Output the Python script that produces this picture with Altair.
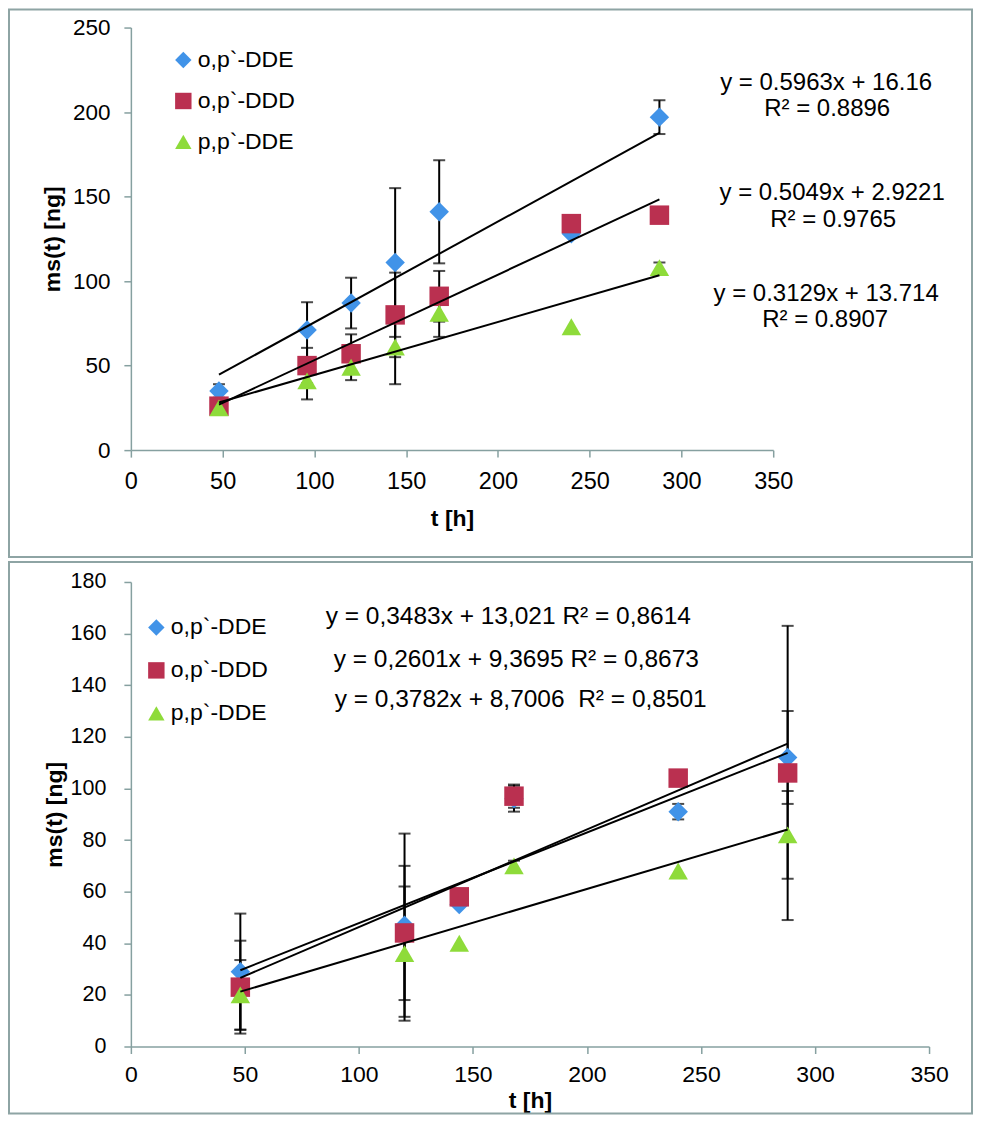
import altair as alt
import pandas as pd

SERIES = ["o,p`-DDE", "o,p`-DDD", "p,p`-DDE"]
COLORS = ["#4193E8", "#BA3050", "#8EDB3A"]
SHAPES = ["diamond", "square", "triangle-up"]

# ---- top panel data ----
T_TOP = [48, 96, 120, 144, 168, 240, 288]
TOP_OP_DDE = [35, 71, 87, 111, 141, 128, 197]
TOP_OP_DDD = [26, 50, 57, 80, 91, 134, 139]
TOP_PP_DDE = [25, 41, 49, 61, 81, 73, 108]
TOP_ERR_OP_DDE = [4, 16.5, 15, 44, 30.5, 0, 10]
TOP_ERR_OP_DDD = [0, 10.5, 11.5, 25, 15, 0, 0]
TOP_ERR_PP_DDE = [0, 11, 7.6, 22, 14, 0, 3]
TOP_EQS = ["y = 0.5963x + 16.16", "R² = 0.8896",
           "y = 0.5049x + 2.9221", "R² = 0.9765",
           "y = 0.3129x + 13.714", "R² = 0.8907"]

# ---- bottom panel data ----
T_BOT = [48, 120, 144, 168, 240, 288]
BOT_OP_DDE = [29, 47, 55, 96, 91, 112]
BOT_OP_DDD = [23, 44, 58, 97, 104, 106]
BOT_PP_DDE = [20, 36, 40, 70, 68, 82]
BOT_ERR_OP_DDE = [22.5, 35.5, 0, 5, 3, 18]
BOT_ERR_OP_DDD = [18, 26, 0, 4.5, 0, 57]
BOT_ERR_PP_DDE = [13.5, 26, 0, 2, 0, 17]
BOT_EQS = ["y = 0,3483x + 13,021 R² = 0,8614",
           "y = 0,2601x + 9,3695 R² = 0,8673",
           "y = 0,3782x + 8,7006\u00a0 R² = 0,8501"]

X_TICKS = [0, 50, 100, 150, 200, 250, 300, 350]
FONT = "Liberation Sans"
AXIS_COLOR = "#86A0A0"
BORDER_COLOR = "#8EA4A4"


def long_df(xs, vals, errs):
    rows = []
    for s, ys, es in zip(SERIES, vals, errs):
        for x, y, e in zip(xs, ys, es):
            rows.append({"series": s, "t": x, "m": y, "err": e})
    return pd.DataFrame(rows)


def panel(df, w, h, ymax, ystep, st, border, legend_pos, texts):
    xsc = alt.Scale(domain=[0, 350], nice=False, zero=True)
    ysc = alt.Scale(domain=[0, ymax], nice=False, zero=True)
    xax = alt.Axis(values=X_TICKS, title="t [h]", grid=False,
                   labelFont=FONT, labelFontSize=st["xfs"], labelColor="black",
                   labelPadding=st["xlp"], tickSize=st["ts"], tickColor=AXIS_COLOR,
                   tickWidth=1.5, domainColor=AXIS_COLOR, domainWidth=1.5,
                   titleFont=FONT, titleFontSize=23, titleFontWeight="bold",
                   titleColor="black", titlePadding=st["xtp"], labelFlush=False)
    yax = alt.Axis(values=list(range(0, ymax + 1, ystep)), title="ms(t) [ng]", grid=False,
                   labelFont=FONT, labelFontSize=st["yfs"], labelColor="black",
                   labelPadding=st["ylp"], tickSize=st["ts"], tickColor=AXIS_COLOR,
                   tickWidth=1.5, domainColor=AXIS_COLOR, domainWidth=1.5,
                   titleFont=FONT, titleFontSize=23, titleFontWeight="bold",
                   titleColor="black", titlePadding=st["ytp"], labelFlush=False)
    X = alt.X("t:Q", scale=xsc, axis=xax)
    leg = alt.Legend(orient="none", legendX=legend_pos[0], legendY=legend_pos[1],
                     title=None, labelFont=FONT, labelFontSize=23, labelColor="black",
                     symbolSize=270, rowPadding=legend_pos[2], labelOffset=3,
                     padding=0, symbolStrokeWidth=0)
    color = alt.Color("series:N", scale=alt.Scale(domain=SERIES, range=COLORS), legend=leg)
    shape = alt.Shape("series:N", scale=alt.Scale(domain=SERIES, range=SHAPES), legend=leg)

    frame = alt.Chart(pd.DataFrame({"k": [0]})).mark_rect(
        fill="transparent", stroke=BORDER_COLOR, strokeWidth=2
    ).encode(x=alt.value(border[0]), x2=alt.value(border[1]),
             y=alt.value(border[2]), y2=alt.value(border[3]))

    err = alt.Chart(df).transform_filter("datum.err > 0").transform_calculate(
        lo="datum.m - datum.err", hi="datum.m + datum.err")
    rules = err.mark_rule(color="black", strokeWidth=2).encode(
        x=X, y=alt.Y("lo:Q", scale=ysc, axis=yax), y2="hi:Q")
    cap_lo = err.mark_tick(color="black", orient="horizontal", size=12, thickness=2).encode(
        x=X, y=alt.Y("lo:Q", scale=ysc, axis=yax))
    cap_hi = err.mark_tick(color="black", orient="horizontal", size=12, thickness=2).encode(
        x=X, y=alt.Y("hi:Q", scale=ysc, axis=yax))

    pts = alt.Chart(df).mark_point(filled=True, size=380, opacity=1, strokeWidth=0).encode(
        x=X, y=alt.Y("m:Q", scale=ysc, axis=yax), color=color, shape=shape)

    lines = alt.Chart(df).transform_regression("t", "m", groupby=["series"]).mark_line(
        color="black", strokeWidth=2).encode(
        x=X, y=alt.Y("m:Q", scale=ysc, axis=yax), detail="series:N")

    layers = [frame, rules, cap_lo, cap_hi, pts, lines]
    for txt, px, py, align, fs in texts:
        layers.append(
            alt.Chart(pd.DataFrame({"txt": [txt]})).mark_text(
                font=FONT, fontSize=fs, color="black", align=align, baseline="alphabetic"
            ).encode(x=alt.value(px), y=alt.value(py), text="txt:N")
        )
    return alt.layer(*layers).properties(width=w, height=h)


top_df = long_df(T_TOP, [TOP_OP_DDE, TOP_OP_DDD, TOP_PP_DDE],
                 [TOP_ERR_OP_DDE, TOP_ERR_OP_DDD, TOP_ERR_PP_DDE])
bot_df = long_df(T_BOT, [BOT_OP_DDE, BOT_OP_DDD, BOT_PP_DDE],
                 [BOT_ERR_OP_DDE, BOT_ERR_OP_DDD, BOT_ERR_PP_DDE])

top_texts = [
    (TOP_EQS[0], 696, 63, "center", 24), (TOP_EQS[1], 697, 89, "center", 24),
    (TOP_EQS[2], 702, 173, "center", 24), (TOP_EQS[3], 703, 200, "center", 24),
    (TOP_EQS[4], 696, 274, "center", 24), (TOP_EQS[5], 695, 300, "center", 24),
]
bot_texts = [
    (BOT_EQS[0], 195, 42, "left", 24.5),
    (BOT_EQS[1], 203, 85, "left", 24.5),
    (BOT_EQS[2], 204, 125, "left", 24.5),
]

top = panel(top_df, 643, 423, 250, 50,
            {"xfs": 23.5, "yfs": 22.5, "xlp": 12, "ylp": 14, "ts": 7, "xtp": 15, "ytp": 8},
            (-122, 842, -18, 530), (41, 21, 17), top_texts)
bot = panel(bot_df, 799, 465, 180, 20,
            {"xfs": 23, "yfs": 21.5, "xlp": 10, "ylp": 18, "ts": 7, "xtp": 3, "ytp": 4},
            (-122, 842, -20, 532), (14, 34, 19), bot_texts)

chart = alt.vconcat(top, bot, spacing=3).resolve_scale(
    color="independent", shape="independent"
).resolve_legend(color="independent", shape="independent").properties(
    padding=0, background="white"
).configure_view(strokeWidth=0)

chart.save("out.html", embed_options={"renderer": "svg", "actions": False})
